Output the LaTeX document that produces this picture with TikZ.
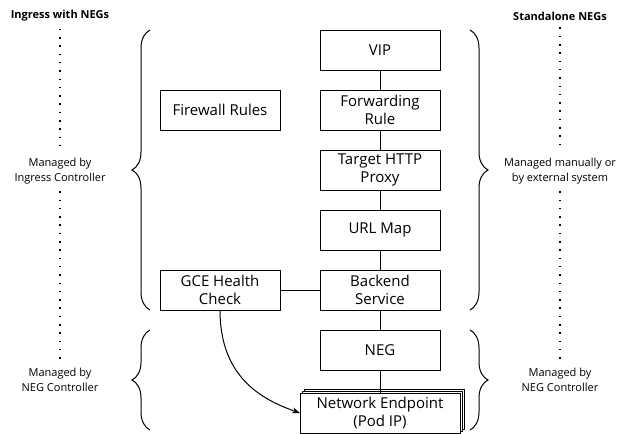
\documentclass[tikz,border=0pt]{standalone}
\usepackage{fontspec}
\setmainfont{Open Sans}
\usetikzlibrary{arrows.meta,positioning,shadows,decorations.pathreplacing}

\begin{document}
\begin{tikzpicture}[
        x=1pt, y=-1pt,
        node distance=20pt and 40pt,
        box/.style={draw, line width=1pt, fill=white, align=center, minimum width=120pt, minimum height=40pt, inner sep=1pt, outer sep=0pt, font=\fontsize{15}{18}\selectfont},
        note/.style={align=center, inner sep=2pt, font=\fontsize{11}{15}\selectfont},
        head/.style={inner sep=2pt, font=\fontsize{11}{13}\selectfont\bfseries},
        link/.style={line width=1pt},
        arrow/.style={-{Stealth[length=8pt,width=6pt]}, line width=1pt},
        dotline/.style={line width=1.5pt, dash pattern=on 1.5pt off 6.8pt, shorten <=5pt, shorten >=5pt},
        bracket/.style={decorate, decoration={brace, amplitude=18pt}, line width=1pt}
    ]
    \useasboundingbox (0,0) rectangle (625,434);

    % load balancer chain
    \node[box] (vip) at (380,50) {VIP};
    \node[box, below=of vip] (fwd) {Forwarding\\Rule};
    \node[box, below=of fwd] (proxy) {Target HTTP\\Proxy};
    \node[box, below=of proxy] (urlmap) {URL Map};
    \node[box, below=of urlmap] (backend) {Backend\\Service};
    \node[box, below=of backend] (neg) {NEG};
    \node[box, below=23pt of neg, minimum width=160pt, double copy shadow={shadow xshift=2pt, shadow yshift=2pt}] (endpoint) {Network Endpoint\\(Pod IP)};
    \node[box, left=of fwd] (firewall) {Firewall Rules};
    \node[box, left=of backend] (health) {GCE Health\\Check};

    \draw[link] (vip) -- (fwd);
    \draw[link] (fwd) -- (proxy);
    \draw[link] (proxy) -- (urlmap);
    \draw[link] (urlmap) -- (backend);
    \draw[link] (backend) -- (neg);
    \draw[link] (neg) -- (endpoint);
    \draw[link] (health) -- (backend);
    \draw[arrow] (health.south) .. controls +(0,66) and +(-40,-14) .. (endpoint.west);

    % braces
    \coordinate (lupper-a) at (150,30);
    \coordinate (lupper-b) at (150,310);
    \coordinate (llower-a) at (150,330);
    \coordinate (llower-b) at (150,430);
    \coordinate (rupper-a) at (470,30);
    \coordinate (rupper-b) at (470,310);
    \coordinate (rlower-a) at (470,330);
    \coordinate (rlower-b) at (470,430);
    \draw[bracket] (lupper-b) -- (lupper-a);
    \draw[bracket] (llower-b) -- (llower-a);
    \draw[bracket] (rupper-a) -- (rupper-b);
    \draw[bracket] (rlower-a) -- (rlower-b);

    % side columns
    \node[head] (ingress) at (60,16) {Ingress with NEGs};
    \node[note] (ingressctl) at (60,171) {Managed by\\Ingress Controller};
    \node[note] (negctl-l) at (60,380) {Managed by\\NEG Controller};
    \node[head] (standalone) at (560,16) {Standalone NEGs};
    \node[note] (manual) at (560,171) {Managed manually or\\by external system};
    \node[note] (negctl-r) at (560,380) {Managed by\\NEG Controller};

    \draw[dotline] (ingress) -- (ingressctl);
    \draw[dotline] (ingressctl) -- (negctl-l);
    \draw[dotline] (standalone) -- (manual);
    \draw[dotline] (manual) -- (negctl-r);
\end{tikzpicture}
\end{document}
